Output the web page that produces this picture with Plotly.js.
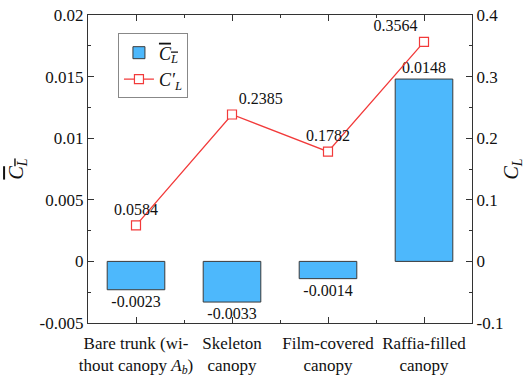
<!DOCTYPE html>
<html>
<head>
<meta charset="utf-8">
<script src="https://cdn.plot.ly/plotly-3.0.1.min.js"></script>
<style>
html,body{margin:0;padding:0;background:#fff;}
#chart{width:525px;height:376px;}
</style>
</head>
<body>
<div id="chart"></div>
<script>
// Canopy configurations on the x axis
const categories = [
  "Bare trunk (wi-<br>thout canopy <i>A<sub>b</sub></i>)",
  "Skeleton<br>canopy",
  "Film-covered<br>canopy",
  "Raffia-filled<br>canopy"
];
// Mean lift coefficient (left axis, bars)
const meanCL = [-0.0023, -0.0033, -0.0014, 0.0148];
// Fluctuating lift coefficient (right axis, line)
const rmsCL = [0.0584, 0.2385, 0.1782, 0.3564];

const leftTicks = [-0.005, 0, 0.005, 0.01, 0.015, 0.02];
const leftTickText = ["-0.005", "0", "0.005", "0.01", "0.015", "0.02"];
const rightTicks = [-0.1, 0, 0.1, 0.2, 0.3, 0.4];
const rightTickText = ["-0.1", "0", "0.1", "0.2", "0.3", "0.4"];

const pos = categories.map((_, i) => i);
const font = "Liberation Serif";
const barTitle = '<span style="text-decoration:overline"><i>C<sub>L</sub></i></span>';
const lineTitle = "<i>C′<sub>L</sub></i>";

const bars = {
  type: "bar",
  x: pos,
  y: meanCL,
  width: 0.6,
  name: barTitle,
  marker: {color: "#4DB8FC", line: {color: "#3a3a3a", width: 1}},
  text: meanCL.map(String),
  textposition: "outside",
  cliponaxis: false,
  textfont: {family: font, size: 16, color: "#111"},
  hoverinfo: "none"
};

const line = {
  type: "scatter",
  mode: "lines+markers+text",
  x: pos,
  y: rmsCL,
  yaxis: "y2",
  name: lineTitle,
  line: {color: "#F23A3A", width: 1.3},
  marker: {symbol: "square", size: 9, color: "#fff", line: {color: "#F23A3A", width: 1.2}},
  text: rmsCL.map(String),
  textposition: ["top center", "top right", "top center", "top left"],
  textfont: {family: font, size: 16, color: "#111"},
  cliponaxis: false,
  hoverinfo: "none"
};

const layout = {
  width: 525,
  height: 376,
  margin: {l: 88, r: 53, t: 15, b: 53},
  paper_bgcolor: "#fff",
  plot_bgcolor: "#fff",
  font: {family: font, size: 16, color: "#111"},
  showlegend: true,
  legend: {
    x: 0.078, y: 0.94, xanchor: "left", yanchor: "top",
    bordercolor: "#888", borderwidth: 1, bgcolor: "#fff",
    font: {family: font, size: 18}
  },
  bargap: 0.4,
  xaxis: {
    range: [-0.5, 3.5],
    tickvals: pos,
    ticktext: categories,
    ticks: "inside", ticklen: 6, tickcolor: "#333",
    minor: {tick0: 0.5, dtick: 1, ticks: "inside", ticklen: 3, tickcolor: "#333"},
    showline: true, linecolor: "#333", linewidth: 1.2,
    mirror: "ticks",
    showgrid: false, zeroline: false,
    ticklabelstandoff: 4,
    tickfont: {family: font, size: 17}
  },
  yaxis: {
    range: [-0.005, 0.02],
    tickvals: leftTicks,
    ticktext: leftTickText,
    ticks: "inside", ticklen: 6, tickcolor: "#333",
    minor: {dtick: 0.0025, ticks: "inside", ticklen: 3, tickcolor: "#333"},
    showline: true, linecolor: "#333", linewidth: 1.2,
    showgrid: false, zeroline: false,
    tickfont: {family: font, size: 17},
    title: {text: barTitle, font: {family: font, size: 20}, standoff: 10}
  },
  yaxis2: {
    overlaying: "y",
    side: "right",
    range: [-0.1, 0.4],
    tickvals: rightTicks,
    ticktext: rightTickText,
    ticks: "inside", ticklen: 6, tickcolor: "#333",
    minor: {dtick: 0.05, ticks: "inside", ticklen: 3, tickcolor: "#333"},
    showline: true, linecolor: "#333", linewidth: 1.2,
    showgrid: false, zeroline: false,
    tickfont: {family: font, size: 17},
    title: {text: "<i>C<sub>L</sub></i>", font: {family: font, size: 20}, standoff: 6}
  }
};

Plotly.newPlot("chart", [bars, line], layout, {displayModeBar: false, staticPlot: true});
</script>
</body>
</html>
